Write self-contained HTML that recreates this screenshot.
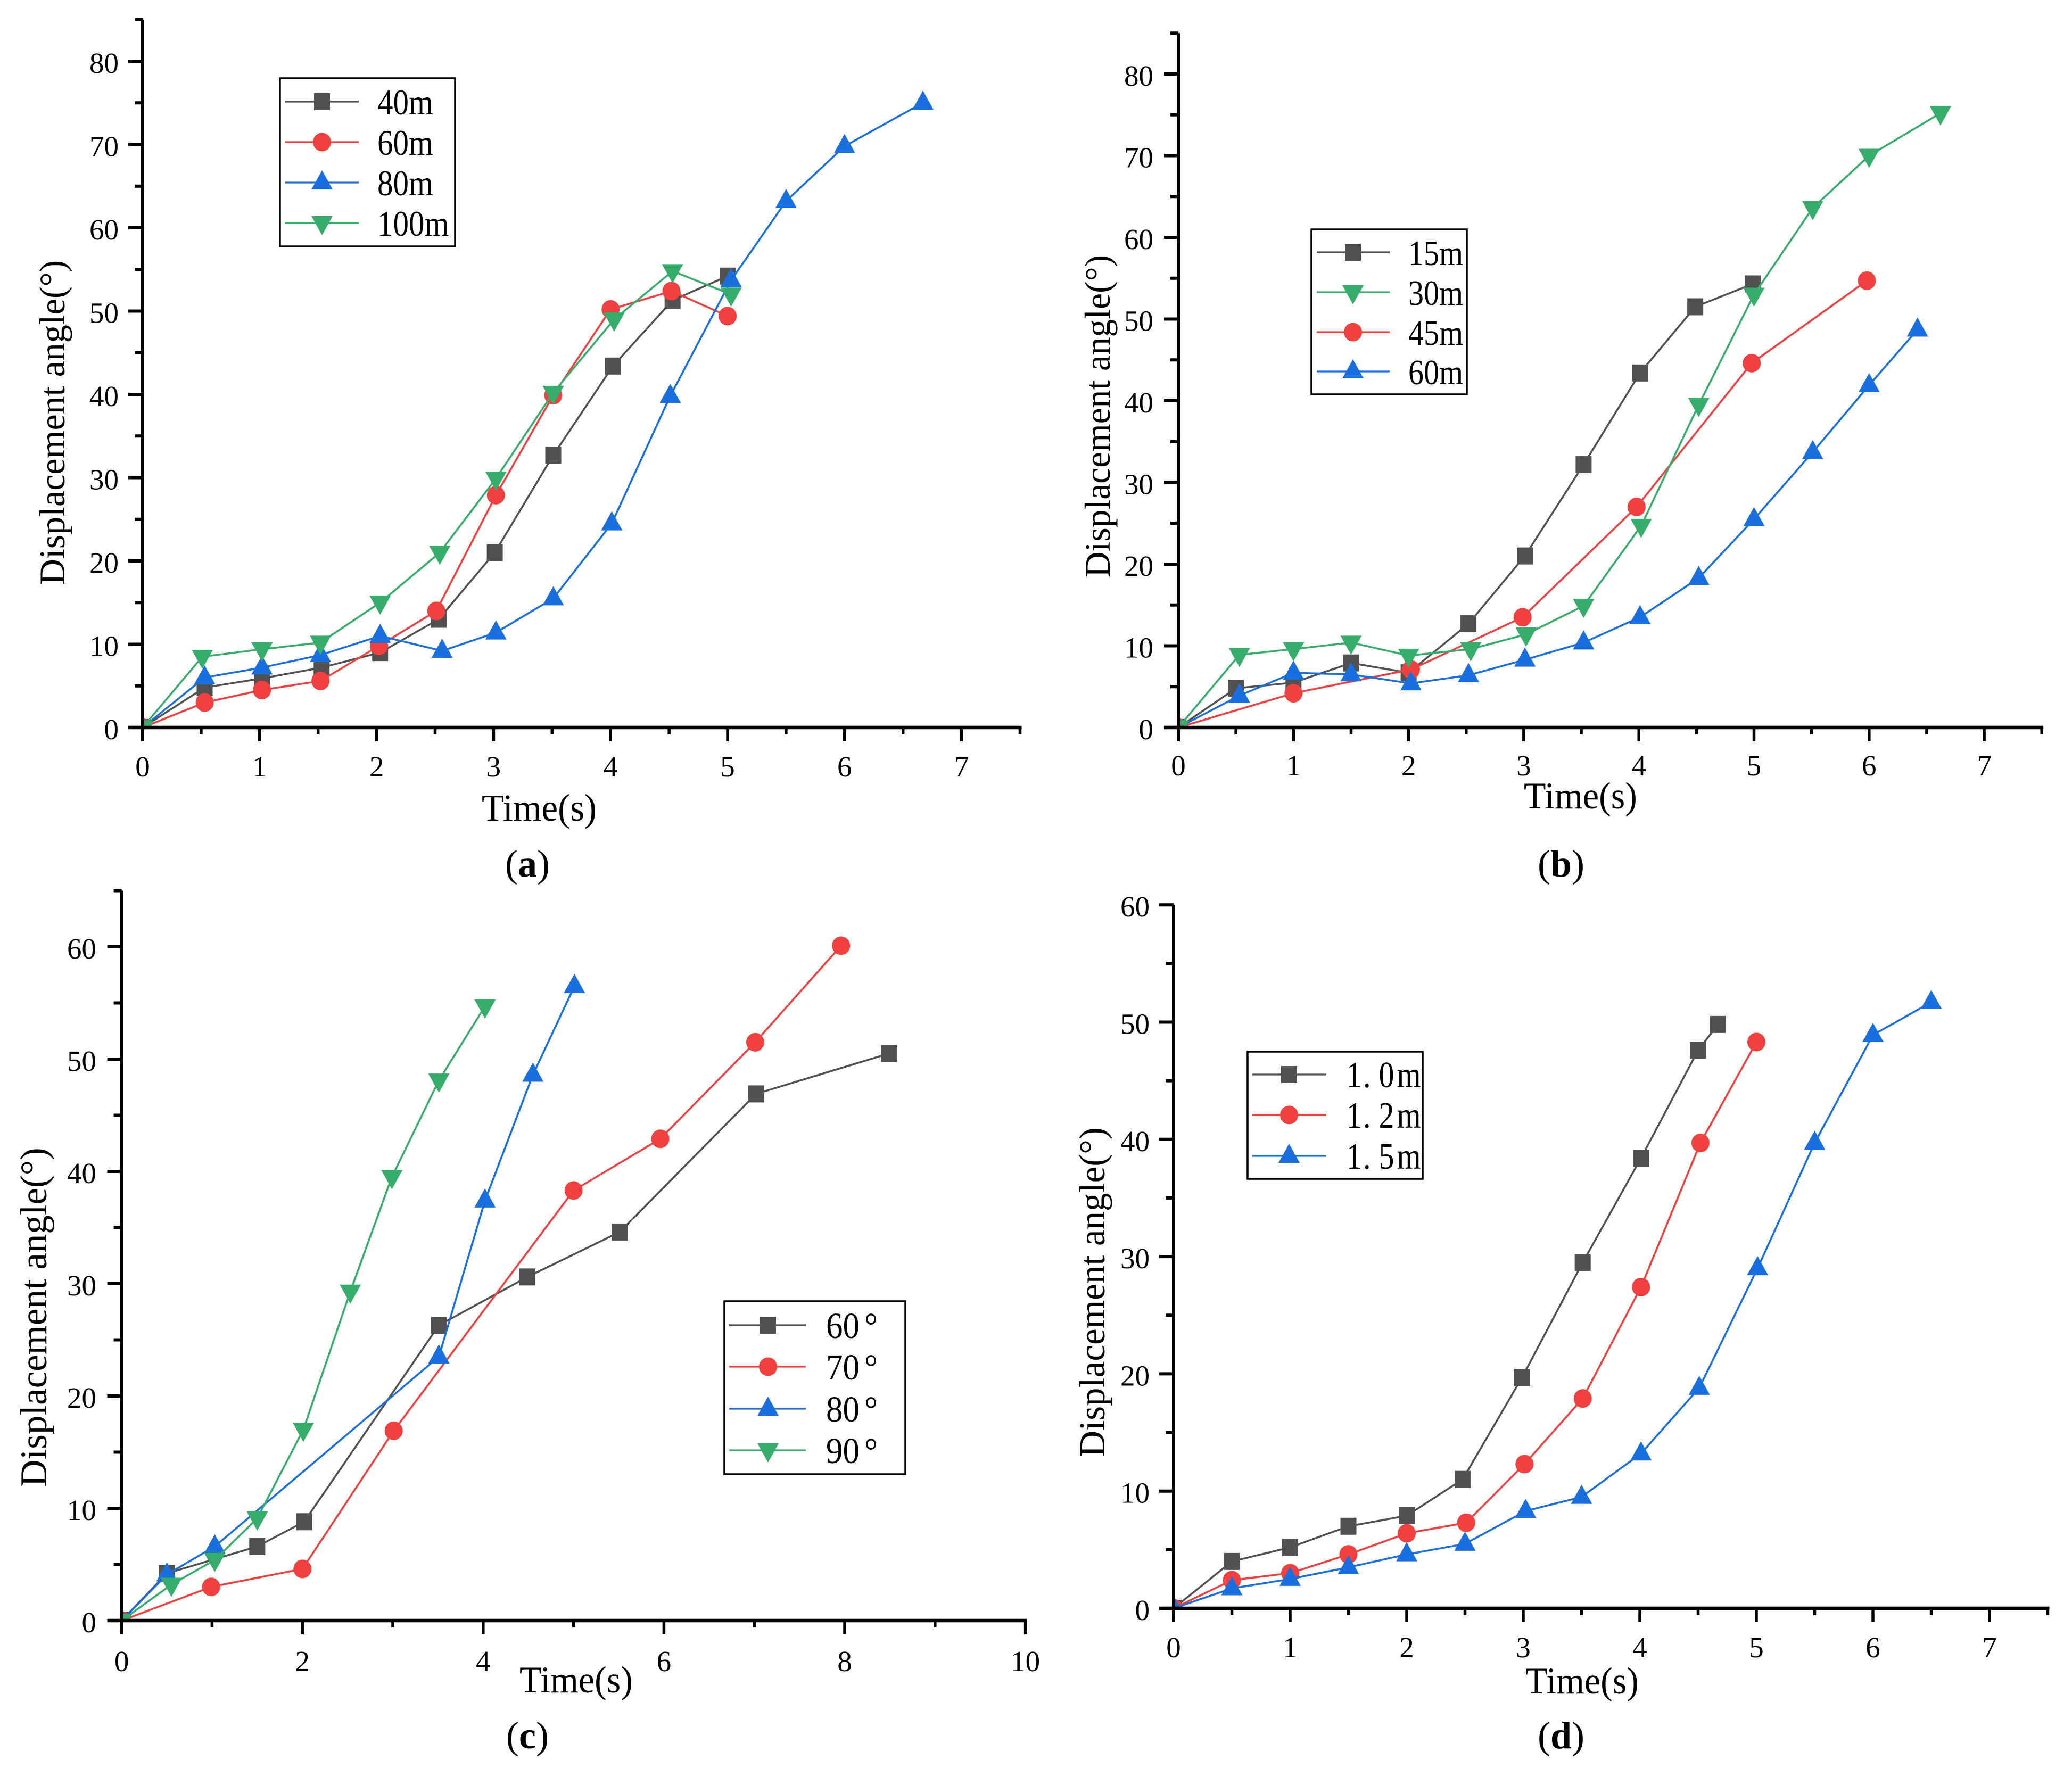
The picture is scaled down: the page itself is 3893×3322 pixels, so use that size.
<!DOCTYPE html>
<html lang="en">
<head>
<meta charset="utf-8">
<title>Displacement angle versus time</title>
<style>
html,body{margin:0;padding:0;background:#fff;}
body{width:3893px;height:3322px;overflow:hidden;}
svg{display:block;}
text{font-family:"Liberation Serif","Noto Serif CJK SC",serif;fill:#000;}
</style>
</head>
<body>
<svg id="figure" xmlns="http://www.w3.org/2000/svg" width="3893" height="3322" viewBox="0 0 3893 3322">
  <rect width="3893" height="3322" fill="#fff"/>

  <text transform="translate(905,1542) scale(1,1.05)" font-size="69">Time(s)</text>
  <text transform="translate(121,794) rotate(-90)" font-size="68" text-anchor="middle">Displacement angle(°)</text>
  <text x="949" y="1647" font-size="72">(<tspan font-weight="bold">a</tspan>)</text>

  <text transform="translate(2863,1519) scale(1,1.05)" font-size="68">Time(s)</text>
  <text transform="translate(2085,782) rotate(-90)" font-size="67.5" text-anchor="middle">Displacement angle(°)</text>
  <text x="2889" y="1647" font-size="72">(<tspan font-weight="bold">b</tspan>)</text>

  <text transform="translate(976,3180) scale(1,1.05)" font-size="68">Time(s)</text>
  <text transform="translate(87,2475) rotate(-90)" font-size="71" text-anchor="middle">Displacement angle(°)</text>
  <text x="951" y="3285" font-size="72">(<tspan font-weight="bold">c</tspan>)</text>

  <text transform="translate(2866,3182) scale(1,1.05)" font-size="68">Time(s)</text>
  <text transform="translate(2075,2428) rotate(-90)" font-size="69" text-anchor="middle">Displacement angle(°)</text>
  <text x="2889" y="3285" font-size="72">(<tspan font-weight="bold">d</tspan>)</text>
</svg>

<script>
// ---------- Panel (a) ----------
const a40Time = [0, 0.53, 1.02, 1.53, 2.03, 2.53, 3.01, 3.51, 4.02, 4.53, 5.0];
const a40Angle = [0, 4.8, 5.9, 7.2, 9, 13, 21, 32.7, 43.4, 51.3, 54.2];
const a60Time = [0, 0.53, 1.02, 1.52, 2.02, 2.51, 3.02, 3.51, 4.0, 4.52, 5.0];
const a60Angle = [0, 3, 4.5, 5.6, 9.8, 14, 27.9, 39.9, 50.2, 52.4, 49.4];
const a80Time = [0, 0.53, 1.02, 1.52, 2.03, 2.56, 3.02, 3.51, 4.01, 4.51, 5.03, 5.5, 6.0, 6.67];
const a80Angle = [0, 6, 7.2, 8.7, 11, 9.2, 11.4, 15.5, 24.5, 39.8, 53.7, 63.2, 69.8, 75];
const a100Time = [0, 0.51, 1.02, 1.52, 2.03, 2.54, 3.02, 3.51, 4.03, 4.53, 5.03];
const a100Angle = [0, 8.5, 9.4, 10.2, 15, 21, 29.9, 40.2, 49, 54.8, 52];

// ---------- Panel (b) ----------
const b15Time = [0, 0.5, 1, 1.5, 2, 2.52, 3.01, 3.52, 4.01, 4.49, 4.99];
const b15Angle = [0, 4.8, 5.5, 7.9, 6.7, 12.7, 21, 32.2, 43.4, 51.5, 54.3];
const b30Time = [0, 0.53, 1, 1.5, 2, 2.54, 3.02, 3.52, 4.02, 4.52, 5.0, 5.51, 6.0, 6.62];
const b30Angle = [0, 8.9, 9.6, 10.4, 8.8, 9.6, 11.4, 14.9, 24.7, 39.5, 53, 63.6, 70, 75.2];
const b45Time = [0, 1, 2.02, 2.99, 3.98, 4.98, 5.98];
const b45Angle = [0, 4.2, 7.1, 13.5, 27, 44.6, 54.7];
const b60Time = [0, 0.53, 1, 1.5, 2.02, 2.52, 3.01, 3.52, 4.01, 4.52, 5.0, 5.51, 6.0, 6.42];
const b60Angle = [0, 3.9, 6.7, 6.5, 5.4, 6.4, 8.3, 10.4, 13.5, 18.3, 25.5, 33.7, 41.9, 48.7];

// ---------- Panel (c) ----------
const c60Time = [0, 0.5, 1.5, 2.02, 3.51, 4.49, 5.51, 7.02, 8.49];
const c60Angle = [0, 4.2, 6.6, 8.8, 26.3, 30.6, 34.6, 46.9, 50.5];
const c70Time = [0, 0.99, 2.0, 3.01, 5.0, 5.96, 7.01, 7.96];
const c70Angle = [0, 3, 4.6, 16.9, 38.3, 42.9, 51.5, 60.1];
const c80Time = [0, 0.5, 1.03, 3.51, 4.02, 4.55, 5.01];
const c80Angle = [0, 4.1, 6.6, 23.5, 37.4, 48.6, 56.5];
const c90Time = [0, 0.55, 1.03, 1.5, 2.01, 2.53, 2.99, 3.51, 4.02];
const c90Angle = [0, 3.2, 5.4, 9.1, 17.0, 29.3, 39.5, 48.1, 54.7];

// ---------- Panel (d) ----------
const d10Time = [0, 0.5, 1, 1.5, 2, 2.48, 2.99, 3.51, 4.01, 4.5, 4.67];
const d10Angle = [0, 4, 5.2, 7, 7.9, 11, 19.7, 29.5, 38.4, 47.6, 49.8];
const d12Time = [0, 0.5, 1, 1.5, 2, 2.51, 3.01, 3.51, 4.01, 4.52, 5.0];
const d12Angle = [0, 2.4, 3, 4.6, 6.4, 7.3, 12.3, 17.9, 27.4, 39.7, 48.3];
const d15Time = [0, 0.5, 1, 1.5, 2, 2.5, 3.02, 3.5, 4.01, 4.51, 5.01, 5.5, 6.0, 6.5];
const d15Angle = [0, 1.7, 2.5, 3.5, 4.6, 5.5, 8.3, 9.5, 13.2, 18.8, 29, 39.7, 48.9, 51.7];

// ---------- Tick labels ----------
const xTicks7 = [0, 1, 2, 3, 4, 5, 6, 7];
const xTicks10 = [0, 2, 4, 6, 8, 10];
const yTicks80 = [0, 10, 20, 30, 40, 50, 60, 70, 80];
const yTicks60 = [0, 10, 20, 30, 40, 50, 60];

const colors = { square: '#515151', circle: '#F14040', up: '#1A6FDF', down: '#37AD6B' };
const drawOrder = ['square', 'circle', 'up', 'down'];

const panels = [
  { id: 'a', x0: 268, y0: 1367, ux: 219.8, uy: 15.65, xMax: 7.5, yMax: 85, xTicks: xTicks7, xMinor: 0.5, yTicks: yTicks80, yMinor: 5,
    xLabelY: 1459, yLabelRight: 223,
    legend: { x: 526, y: 147, w: 329, h: 316, lineA: 536, lineB: 674, mark: 605, textX: 709, size: 59, stretch: 1.15, rows: [191, 267, 343, 419] },
    series: [
      { name: '40m', kind: 'square', t: a40Time, v: a40Angle },
      { name: '60m', kind: 'circle', t: a60Time, v: a60Angle },
      { name: '80m', kind: 'up', t: a80Time, v: a80Angle },
      { name: '100m', kind: 'down', t: a100Time, v: a100Angle }
    ] },
  { id: 'b', x0: 2214, y0: 1367, ux: 216.3, uy: 15.35, xMax: 7.5, yMax: 85, xTicks: xTicks7, xMinor: 0.5, yTicks: yTicks80, yMinor: 5,
    xLabelY: 1457, yLabelRight: 2167,
    legend: { x: 2464, y: 431, w: 292, h: 310, lineA: 2474, lineB: 2611, mark: 2542, textX: 2646, size: 58, stretch: 1.15, rows: [474, 549, 624, 698] },
    series: [
      { name: '15m', kind: 'square', t: b15Time, v: b15Angle },
      { name: '30m', kind: 'down', t: b30Time, v: b30Angle },
      { name: '45m', kind: 'circle', t: b45Time, v: b45Angle },
      { name: '60m', kind: 'up', t: b60Time, v: b60Angle }
    ] },
  { id: 'c', x0: 228.6, y0: 3045, ux: 169.8, uy: 21.1, xMax: 10, yMax: 65, xTicks: xTicks10, xMinor: 1, yTicks: yTicks60, yMinor: 5,
    xLabelY: 3140, yLabelRight: 181,
    legend: { x: 1361, y: 2445, w: 340, h: 325, lineA: 1370, lineB: 1514, mark: 1443, textX: 1552, size: 63, stretch: 1.1, degreeGap: 9, rows: [2490, 2568, 2647, 2725] },
    series: [
      { name: '60°', kind: 'square', t: c60Time, v: c60Angle },
      { name: '70°', kind: 'circle', t: c70Time, v: c70Angle },
      { name: '80°', kind: 'up', t: c80Time, v: c80Angle },
      { name: '90°', kind: 'down', t: c90Time, v: c90Angle }
    ] },
  { id: 'd', x0: 2205, y0: 3022, ux: 219, uy: 22.03, xMax: 7.5, yMax: 60, xTicks: xTicks7, xMinor: 0.5, yTicks: yTicks60, yMinor: 5,
    xLabelY: 3114, yLabelRight: 2160,
    legend: { x: 2344, y: 1976, w: 329, h: 239, lineA: 2353, lineB: 2492, mark: 2422, textX: 2530, size: 58, stretch: 1.2, charGaps: '0 2 15 5', rows: [2019, 2095, 2172] },
    series: [
      { name: '1.0m', kind: 'square', t: d10Time, v: d10Angle },
      { name: '1.2m', kind: 'circle', t: d12Time, v: d12Angle },
      { name: '1.5m', kind: 'up', t: d15Time, v: d15Angle }
    ] }
];

const SVG_NS = 'http://www.w3.org/2000/svg';
const figure = document.getElementById('figure');

function make(tag, attrs, parent) {
  const node = document.createElementNS(SVG_NS, tag);
  for (const k in attrs) node.setAttribute(k, attrs[k]);
  parent.appendChild(node);
  return node;
}

function drawMarker(kind, cx, cy, parent) {
  const fill = colors[kind];
  let m;
  if (kind === 'square') {
    m = make('rect', { x: cx - 15, y: cy - 16, width: 30, height: 32, fill: fill }, parent);
  } else if (kind === 'circle') {
    m = make('ellipse', { cx: cx, cy: cy, rx: 17, ry: 17.5, fill: fill }, parent);
  } else if (kind === 'up') {
    m = make('polygon', { points: [cx, cy - 23, cx + 20, cy + 13, cx - 20, cy + 13].join(' '), fill: fill }, parent);
  } else {
    m = make('polygon', { points: [cx - 20, cy - 13, cx + 20, cy - 13, cx, cy + 23].join(' '), fill: fill }, parent);
  }
  return m;
}

function drawPanel(p) {
  const sx = function (t) { return p.x0 + t * p.ux; };
  const sy = function (v) { return p.y0 - v * p.uy; };

  const group = make('g', {}, figure);
  
  

  const defs = make('defs', {}, group);
  const clip = make('clipPath', { id: 'clip-' + p.id }, defs);
  make('rect', { x: p.x0, y: sy(p.yMax) - 30, width: sx(p.xMax) - p.x0 + 30, height: p.y0 - sy(p.yMax) + 30 }, clip);

  // series
  const plot = make('g', { 'clip-path': 'url(#clip-' + p.id + ')' }, group);
  
  
  const ordered = p.series.slice().sort(function (a, b) { return drawOrder.indexOf(a.kind) - drawOrder.indexOf(b.kind); });
  ordered.forEach(function (s) {
    const g = make('g', {}, plot);
    
    
    const pts = s.t.map(function (t, i) { return sx(t) + ',' + sy(s.v[i]); }).join(' ');
    const line = make('polyline', { points: pts, fill: 'none', stroke: colors[s.kind], 'stroke-width': 3.6, 'stroke-linejoin': 'round' }, g);
    
    
    s.t.forEach(function (t, i) {
      const m = drawMarker(s.kind, sx(t), sy(s.v[i]), g);
      
      
    });
  });

  // axes
  const axes = make('g', { stroke: '#000', fill: 'none' }, group);
  
  
  const yAxis = make('line', { x1: p.x0, x2: p.x0, y1: sy(p.yMax), y2: p.y0 + 26, 'stroke-width': 6 }, axes);
  
  
  const xAxis = make('line', { x1: p.x0 - 27, x2: sx(p.xMax) + 3, y1: p.y0, y2: p.y0, 'stroke-width': 6.5 }, axes);
  
  

  // minor and major ticks
  for (let t = 0; t <= p.xMax + 1e-6; t += p.xMinor) {
    const major = p.xTicks.some(function (m) { return Math.abs(m - t) < 1e-6; });
    const tick = make('line', { x1: sx(t), x2: sx(t), y1: p.y0, y2: p.y0 + (major ? 26 : 13), 'stroke-width': 5.5 }, axes);
    
    
  }
  for (let v = 0; v <= p.yMax + 1e-6; v += p.yMinor) {
    const major = p.yTicks.indexOf(v) >= 0;
    const tick = make('line', { x1: p.x0 - (major ? 27 : 15), x2: p.x0, y1: sy(v), y2: sy(v), 'stroke-width': 6 }, axes);
    
    
  }

  // tick labels
  p.xTicks.forEach(function (t) {
    const label = make('text', { x: sx(t), y: p.xLabelY, 'font-size': 55, 'text-anchor': 'middle' }, group);
    label.textContent = String(t);
    
    
  });
  p.yTicks.forEach(function (v) {
    const label = make('text', { x: p.yLabelRight, y: sy(v) + 22, 'font-size': 55, 'text-anchor': 'end' }, group);
    label.textContent = String(v);
    
    
  });

  // legend
  const L = p.legend;
  const legend = make('g', {}, group);
  
  
  const box = make('rect', { x: L.x, y: L.y, width: L.w, height: L.h, fill: '#fff', stroke: '#000', 'stroke-width': 3.5 }, legend);
  
  
  p.series.forEach(function (s, i) {
    const rowY = L.rows[i];
    const entry = make('g', {}, legend);
    
    
    make('line', { x1: L.lineA, x2: L.lineB, y1: rowY, y2: rowY, stroke: colors[s.kind], 'stroke-width': 3.2 }, entry);
    drawMarker(s.kind, L.mark, rowY, entry);
    const label = make('text', { transform: 'translate(' + L.textX + ',' + (rowY + 24) + ') scale(1,' + L.stretch + ')', 'font-size': L.size }, entry);
    label.textContent = s.name;
    if (L.degreeGap) label.setAttribute('dx', '0 0 ' + L.degreeGap);
    if (L.charGaps) label.setAttribute('dx', L.charGaps);
    
    
  });
}

panels.forEach(drawPanel);
</script>
</body>
</html>
